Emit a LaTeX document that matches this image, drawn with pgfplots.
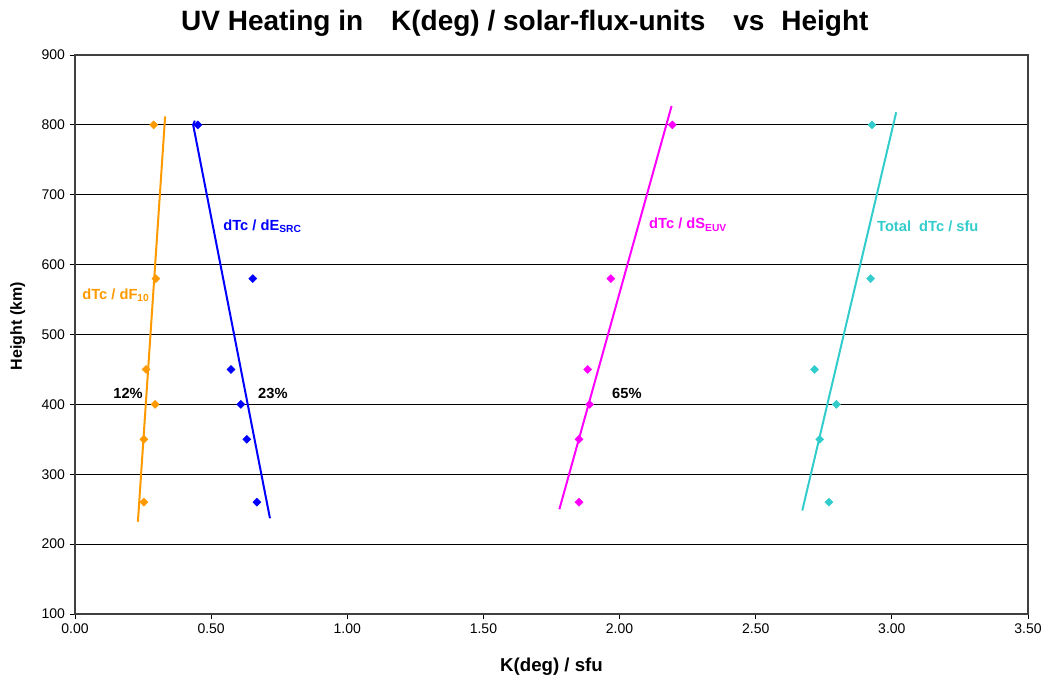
\documentclass[border=0pt]{standalone}
\usepackage{fontspec}
\setmainfont{Liberation Sans}
\usepackage{pgfplots}
\pgfplotsset{compat=1.18}

\definecolor{cOrange}{RGB}{255,153,0}
\definecolor{cBlue}{RGB}{0,0,255}
\definecolor{cMag}{RGB}{255,0,255}
\definecolor{cCyan}{RGB}{51,204,204}

\begin{document}
\begin{tikzpicture}
\path[use as bounding box] (-56.25pt,-49.5pt) rectangle (729pt,460.5pt);
\begin{axis}[
    scale only axis,
    width=714.75pt, height=419.25pt,
    xmin=0, xmax=3.5, ymin=100, ymax=900,
    xtick={0,0.5,...,3.5}, ytick={100,200,...,900},
    ymajorgrids,
    major grid style={black, line width=0.7pt},
    axis line style={black!75, line width=0.8pt},
    tick align=outside, xtick pos=bottom, ytick pos=left,
    major tick length=4pt,
    tick style={black, line width=0.6pt},
    tick label style={font=\fontsize{10.5}{12}\selectfont},
    /pgf/number format/assume math mode=true,
    xticklabel style={/pgf/number format/.cd, fixed, fixed zerofill, precision=2},
    yticklabel style={/pgf/number format/fixed},
    xlabel={\textbf{K(deg) / sfu}},
    ylabel={\textbf{Height (km)}},
    xlabel style={font=\fontsize{14}{16}\selectfont, at={(axis description cs:0.5,-0.094)}, anchor=center},
    ylabel style={font=\fontsize{12}{14}\selectfont, at={(axis description cs:-0.060,0.515)}, anchor=center},
    clip=false,
    mark size=2.1pt,
    mark options={rotate=45},
]
% data points
\addplot[only marks, mark=square*, color=cOrange] coordinates {
    (0.289,800) (0.297,580) (0.261,450) (0.294,400) (0.253,350) (0.253,260)};
\addplot[only marks, mark=square*, color=cBlue] coordinates {
    (0.451,800) (0.653,580) (0.573,450) (0.609,400) (0.631,350) (0.668,260)};
\addplot[only marks, mark=square*, color=cMag] coordinates {
    (2.194,800) (1.968,580) (1.883,450) (1.890,400) (1.851,350) (1.851,260)};
\addplot[only marks, mark=square*, color=cCyan] coordinates {
    (2.927,800) (2.922,580) (2.716,450) (2.796,400) (2.735,350) (2.769,260)};
% trend lines
\addplot[no marks, cOrange, line width=1.5pt] coordinates {(0.231,232) (0.331,812)};
\addplot[no marks, cBlue, line width=1.5pt] coordinates {(0.440,806) (0.434,800) (0.716,237)};
\addplot[no marks, cMag, line width=1.5pt] coordinates {(1.779,250) (2.191,827)};
\addplot[no marks, cCyan, line width=1.5pt] coordinates {(2.671,248) (3.016,818)};
% labels
\node[anchor=west, text=cOrange, font=\bfseries\fontsize{11}{13}\selectfont, inner sep=0pt]
    at (axis cs:0.026,556) {dTc / dF\textsubscript{10}};
\node[anchor=west, text=cBlue, font=\bfseries\fontsize{11}{13}\selectfont, inner sep=0pt]
    at (axis cs:0.544,655) {dTc / dE\textsubscript{SRC}};
\node[anchor=west, text=cMag, font=\bfseries\fontsize{11}{13}\selectfont, inner sep=0pt]
    at (axis cs:2.108,657) {dTc / dS\textsubscript{EUV}};
\node[anchor=west, text=cCyan, font=\bfseries\fontsize{11}{13}\selectfont, inner sep=0pt]
    at (axis cs:2.945,655) {Total\ \ dTc / sfu};
\node[anchor=west, font=\bfseries\fontsize{11}{13}\selectfont, inner sep=0pt]
    at (axis cs:0.140,415) {12\%};
\node[anchor=west, font=\bfseries\fontsize{11}{13}\selectfont, inner sep=0pt]
    at (axis cs:0.672,415) {23\%};
\node[anchor=west, font=\bfseries\fontsize{11}{13}\selectfont, inner sep=0pt]
    at (axis cs:1.972,415) {65\%};
\node[font=\bfseries\fontsize{21}{24}\selectfont]
    at (axis description cs:0.472,1.056) {UV Heating in\hspace{1em}K(deg) / solar-flux-units\hspace{1em}vs\hspace{0.6em}Height};
\end{axis}
\end{tikzpicture}
\end{document}
